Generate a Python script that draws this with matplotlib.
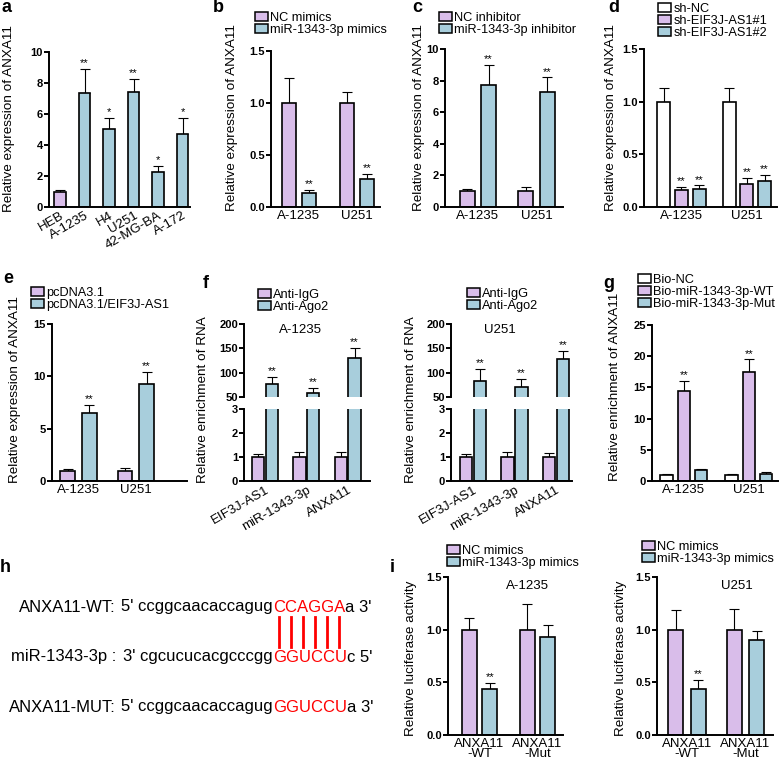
import numpy as np
import matplotlib
matplotlib.use('Agg')
import matplotlib.pyplot as plt
from matplotlib.patches import Patch

W, H = 783, 763
plt.rcParams['font.family'] = ['Liberation Sans', 'DejaVu Sans']

PURPLE = '#D9BDEA'
BLUE = '#A8CEDC'
WHITE = '#FFFFFF'

# ---- data ----
a_labels = ['HEB', 'A-1235', 'H4', 'U251', '42-MG-BA', 'A-172']
a_vals = [0.97, 7.35, 5.05, 7.4, 2.27, 4.72]
a_errs = [0.13, 1.55, 0.72, 0.87, 0.37, 1.05]
a_stars = ['', '**', '*', '**', '*', '*']

cells = ['A-1235', 'U251']

b_nc = [1.0, 1.0]
b_nc_err = [0.245, 0.11]
b_mim = [0.13, 0.27]
b_mim_err = [0.035, 0.045]

c_nc = [1.0, 1.0]
c_nc_err = [0.16, 0.25]
c_inh = [7.7, 7.25]
c_inh_err = [1.28, 0.95]

d_nc = [1.0, 1.0]
d_nc_err = [0.13, 0.13]
d_sh1 = [0.16, 0.22]
d_sh1_err = [0.03, 0.06]
d_sh2 = [0.17, 0.25]
d_sh2_err = [0.035, 0.055]

e_pc = [1.0, 1.0]
e_pc_err = [0.17, 0.2]
e_eif = [6.45, 9.27]
e_eif_err = [0.82, 1.18]

f_genes = ['EIF3J-AS1', 'miR-1343-3p', 'ANXA11']
fa_igg = [1.0, 1.0, 1.0]
fa_igg_err = [0.13, 0.2, 0.2]
fa_ago = [77, 59, 131]
fa_ago_err = [14, 9, 20]
fu_igg = [1.0, 1.0, 1.0]
fu_igg_err = [0.14, 0.2, 0.18]
fu_ago = [83, 70, 128]
fu_ago_err = [24, 18, 16]

g_nc = [0.95, 0.95]
g_nc_err = [0.2, 0.2]
g_wt = [14.4, 17.4]
g_wt_err = [1.6, 2.1]
g_mut = [1.75, 1.2]
g_mut_err = [0.25, 0.25]

i_labels = ['ANXA11\n-WT', 'ANXA11\n-Mut']
ia_nc = [1.0, 1.0]
ia_nc_err = [0.115, 0.24]
ia_mim = [0.44, 0.93]
ia_mim_err = [0.055, 0.11]
iu_nc = [1.0, 1.0]
iu_nc_err = [0.19, 0.2]
iu_mim = [0.44, 0.9]
iu_mim_err = [0.085, 0.09]

fig = plt.figure(figsize=(W / 100, H / 100), dpi=100)


def box(l, t, r, b):
    return fig.add_axes([l / W, 1 - b / H, (r - l) / W, (b - t) / H])


def style(ax, ylim, yticks, ylabels=None):
    for s in ('top', 'right'):
        ax.spines[s].set_visible(False)
    for s in ('left', 'bottom'):
        ax.spines[s].set_linewidth(1.4)
    ax.set_ylim(*ylim)
    ax.set_yticks(yticks)
    if ylabels is not None:
        ax.set_yticklabels(ylabels)
    ax.tick_params(axis='y', direction='out', length=3.5, width=1.4, labelsize=8, pad=0.8)
    ax.tick_params(axis='x', length=0, labelsize=9.5, pad=2)
    plt.setp(ax.get_yticklabels(), fontweight='bold')


def grouped(ax, series, errs, colors, width, step, stars):
    n = len(series)
    x = np.arange(len(series[0]))
    for k in range(n):
        pos = x + (k - (n - 1) / 2) * step
        ax.bar(pos, series[k], width, color=colors[k], edgecolor='black',
               linewidth=1.2, zorder=2)
        ax.errorbar(pos, series[k], yerr=[np.zeros(len(x)), errs[k]], fmt='none',
                    ecolor='black', elinewidth=0.8, capsize=3.5, capthick=0.8, zorder=1)
        for p, v, e, st in zip(pos, series[k], errs[k], stars[k]):
            if st:
                ax.annotate(st, (p, v + e), xytext=(0, 0.5), textcoords='offset points',
                            ha='center', va='bottom', fontsize=8)
    return x


def legend(labels, colors, x, y):
    handles = [Patch(facecolor=c, edgecolor='black', linewidth=1.1) for c in colors]
    fig.legend(handles, labels, loc='upper left', bbox_to_anchor=(x / W, 1 - y / H),
               frameon=False, fontsize=9.2, handlelength=1.05, handleheight=0.6,
               handletextpad=0.15, labelspacing=0.0, borderpad=0, borderaxespad=0)


def ylab(text, x, y):
    fig.text(x / W, 1 - y / H, text, rotation=90, ha='center', va='center', fontsize=9.7)


def letter(ch, x, y):
    fig.text(x / W, 1 - y / H, ch, fontsize=13, fontweight='bold', va='baseline')


# ---- a ----
ax = box(49, 52, 190, 207)
xa = np.arange(len(a_labels))
a_cols = [PURPLE] + [BLUE] * (len(a_labels) - 1)
ax.bar(xa, a_vals, 0.47, color=a_cols, edgecolor='black', linewidth=1.2, zorder=2)
ax.errorbar(xa, a_vals, yerr=[np.zeros(len(xa)), a_errs], fmt='none', ecolor='black',
            elinewidth=0.8, capsize=3.5, capthick=0.8, zorder=1)
for p, v, e, st in zip(xa, a_vals, a_errs, a_stars):
    if st:
        ax.annotate(st, (p, v + e), xytext=(0, 0.5), textcoords='offset points',
                    ha='center', va='bottom', fontsize=8)
style(ax, (0, 10), [0, 2, 4, 6, 8, 10])
ax.set_xlim(-0.45, 5.3)
ax.set_xticks(xa)
ax.set_xticklabels(a_labels, rotation=30, ha='right', rotation_mode='anchor')
ylab('Relative expression of ANXA11', 9, 119)
letter('a', 1, 12)

# ---- b ----
ax = box(271, 51, 380, 207)
x = grouped(ax, [b_nc, b_mim], [b_nc_err, b_mim_err], [PURPLE, BLUE], 0.246, 0.345,
            [['', ''], ['**', '**']])
style(ax, (0, 1.5), [0, 0.5, 1.0, 1.5], ['0.0', '0.5', '1.0', '1.5'])
ax.set_xlim(-0.48, 1.40)
ax.set_xticks(x)
ax.set_xticklabels(cells)
legend(['NC mimics', 'miR-1343-3p mimics'], [PURPLE, BLUE], 255, 12)
ylab('Relative expression of ANXA11', 232, 118)
letter('b', 213, 12)

# ---- c ----
ax = box(445, 49, 563, 207)
x = grouped(ax, [c_nc, c_inh], [c_nc_err, c_inh_err], [PURPLE, BLUE], 0.256, 0.367,
            [['', ''], ['**', '**']])
style(ax, (0, 10), [0, 2, 4, 6, 8, 10])
ax.set_xlim(-0.56, 1.45)
ax.set_xticks(x)
ax.set_xticklabels(cells)
legend(['NC inhibitor', 'miR-1343-3p inhibitor'], [PURPLE, BLUE], 439, 12)
ylab('Relative expression of ANXA11', 419, 118)
letter('c', 412, 12)

# ---- d ----
ax = box(644, 49, 777, 207)
x = grouped(ax, [d_nc, d_sh1, d_sh2], [d_nc_err, d_sh1_err, d_sh2_err],
            [WHITE, PURPLE, BLUE], 0.198, 0.27,
            [['', ''], ['**', '**'], ['**', '**']])
style(ax, (0, 1.5), [0, 0.5, 1.0, 1.5], ['0.0', '0.5', '1.0', '1.5'])
ax.set_xlim(-0.57, 1.46)
ax.set_xticks(x)
ax.set_xticklabels(cells)
legend(['sh-NC', 'sh-EIF3J-AS1#1', 'sh-EIF3J-AS1#2'], [WHITE, PURPLE, BLUE], 658, 3)
ylab('Relative expression of ANXA11', 611, 118)
letter('d', 608, 12)

# ---- e ----
ax = box(52, 324, 187, 481)
x = grouped(ax, [e_pc, e_eif], [e_pc_err, e_eif_err], [PURPLE, BLUE], 0.26, 0.375,
            [['', ''], ['**', '**']])
style(ax, (0, 15), [0, 5, 10, 15])
ax.set_xlim(-0.457, 1.89)
ax.set_xticks(x)
ax.set_xticklabels(cells)
legend(['pcDNA3.1', 'pcDNA3.1/EIF3J-AS1'], [PURPLE, BLUE], 31, 287)
ylab('Relative expression of ANXA11', 15, 390)
letter('e', 3, 283)


# ---- f ----
def broken(l, r, igg, igg_err, ago, ago_err, xlim, title, tx):
    lo = box(l, 409, r, 481)
    hi = box(l, 324, r, 397)
    for axx in (lo, hi):
        x = grouped(axx, [igg, ago], [igg_err, ago_err], [PURPLE, BLUE], 0.3, 0.334,
                    [['', '', ''], ['**', '**', '**']])
        axx.set_xlim(*xlim)
    style(lo, (0, 3), [0, 1, 2, 3])
    lo.set_xticks(x)
    lo.set_xticklabels(f_genes, rotation=30, ha='right', rotation_mode='anchor')
    style(hi, (50, 200), [50, 100, 150, 200])
    hi.spines['bottom'].set_visible(False)
    hi.set_xticks([])
    fig.text(tx / W, 1 - 330 / H, title, ha='center', va='center', fontsize=9.5)


broken(244, 370, fa_igg, fa_igg_err, fa_ago, fa_ago_err, (-0.51, 2.54), 'A-1235', 300)
legend(['Anti-IgG', 'Anti-Ago2'], [PURPLE, BLUE], 258, 289)
ylab('Relative enrichment of RNA', 203, 400)
letter('f', 203, 288)

broken(451, 572, fu_igg, fu_igg_err, fu_ago, fu_ago_err, (-0.53, 2.39), 'U251', 500)
legend(['Anti-IgG', 'Anti-Ago2'], [PURPLE, BLUE], 467, 288)
ylab('Relative enrichment of RNA', 411, 400)

# ---- g ----
ax = box(652, 325, 778, 481)
x = grouped(ax, [g_nc, g_wt, g_mut], [g_nc_err, g_wt_err, g_mut_err],
            [WHITE, PURPLE, BLUE], 0.19, 0.265,
            [['', ''], ['**', '**'], ['', '']])
style(ax, (0, 25), [0, 5, 10, 15, 20, 25])
ax.set_xlim(-0.49, 1.45)
ax.set_xticks(x)
ax.set_xticklabels(cells)
legend(['Bio-NC', 'Bio-miR-1343-3p-WT', 'Bio-miR-1343-3p-Mut'], [WHITE, PURPLE, BLUE], 638, 274)
ylab('Relative enrichment of ANXA11', 615, 387)
letter('g', 603, 288)

# ---- h ----
hx = fig.add_axes([0, 0, 1, 1], facecolor='none')
hx.set_xlim(0, W)
hx.set_ylim(H, 0)
hx.axis('off')
seq_rows = [
    ('ANXA11-WT:', "5' ccggcaacaccagug", 'CCAGGA', "a 3'"),
    ('miR-1343-3p :', "3' cgcucucacgcccgg", 'GGUCCU', "c 5'"),
    ('ANXA11-MUT:', "5' ccggcaacaccagug", 'GGUCCU', "a 3'"),
]
row_y = [607, 657, 707]
red_boxes = []
for (lab, pre, red, post), yy in zip(seq_rows, row_y):
    hx.text(116, yy, lab, ha='right', va='center', fontsize=12)
    hx.text(273, yy, pre, ha='right', va='center', fontsize=12)
    rt = hx.text(273, yy, red, ha='left', va='center', fontsize=12, color='#FF0000')
    hx.annotate(post, xy=(1, 0.5), xycoords=rt, ha='left', va='center', fontsize=12)
    red_boxes.append(rt)
fig.canvas.draw()
bb = red_boxes[0].get_window_extent().transformed(hx.transData.inverted())
x0, x1 = min(bb.x0, bb.x1), max(bb.x0, bb.x1)
for k in range(6):
    xc = x0 + (k + 0.5) * (x1 - x0) / 6
    hx.plot([xc, xc], [617, 647], color='#FF0000', lw=2)
letter('h', 0, 572)

# ---- i ----
ax = box(448, 577, 563, 735)
x = grouped(ax, [ia_nc, ia_mim], [ia_nc_err, ia_mim_err], [PURPLE, BLUE], 0.26, 0.356,
            [['', ''], ['**', '']])
style(ax, (0, 1.5), [0, 0.5, 1.0, 1.5], ['0.0', '0.5', '1.0', '1.5'])
ax.set_xlim(-0.545, 1.44)
ax.set_xticks(x)
ax.set_xticklabels(i_labels, linespacing=0.85)
fig.text(527 / W, 1 - 586 / H, 'A-1235', ha='center', va='center', fontsize=9.5)
legend(['NC mimics', 'miR-1343-3p mimics'], [PURPLE, BLUE], 447, 545)
ylab('Relative luciferase activity', 411, 658)
letter('i', 390, 572)

ax = box(657, 577, 773, 735)
x = grouped(ax, [iu_nc, iu_mim], [iu_nc_err, iu_mim_err], [PURPLE, BLUE], 0.256, 0.384,
            [['', ''], ['**', '']])
style(ax, (0, 1.5), [0, 0.5, 1.0, 1.5], ['0.0', '0.5', '1.0', '1.5'])
ax.set_xlim(-0.51, 1.47)
ax.set_xticks(x)
ax.set_xticklabels(i_labels, linespacing=0.85)
fig.text(737 / W, 1 - 586 / H, 'U251', ha='center', va='center', fontsize=9.5)
legend(['NC mimics', 'miR-1343-3p mimics'], [PURPLE, BLUE], 642, 541)
ylab('Relative luciferase activity', 621, 658)

fig.savefig('out.png', dpi=100)
